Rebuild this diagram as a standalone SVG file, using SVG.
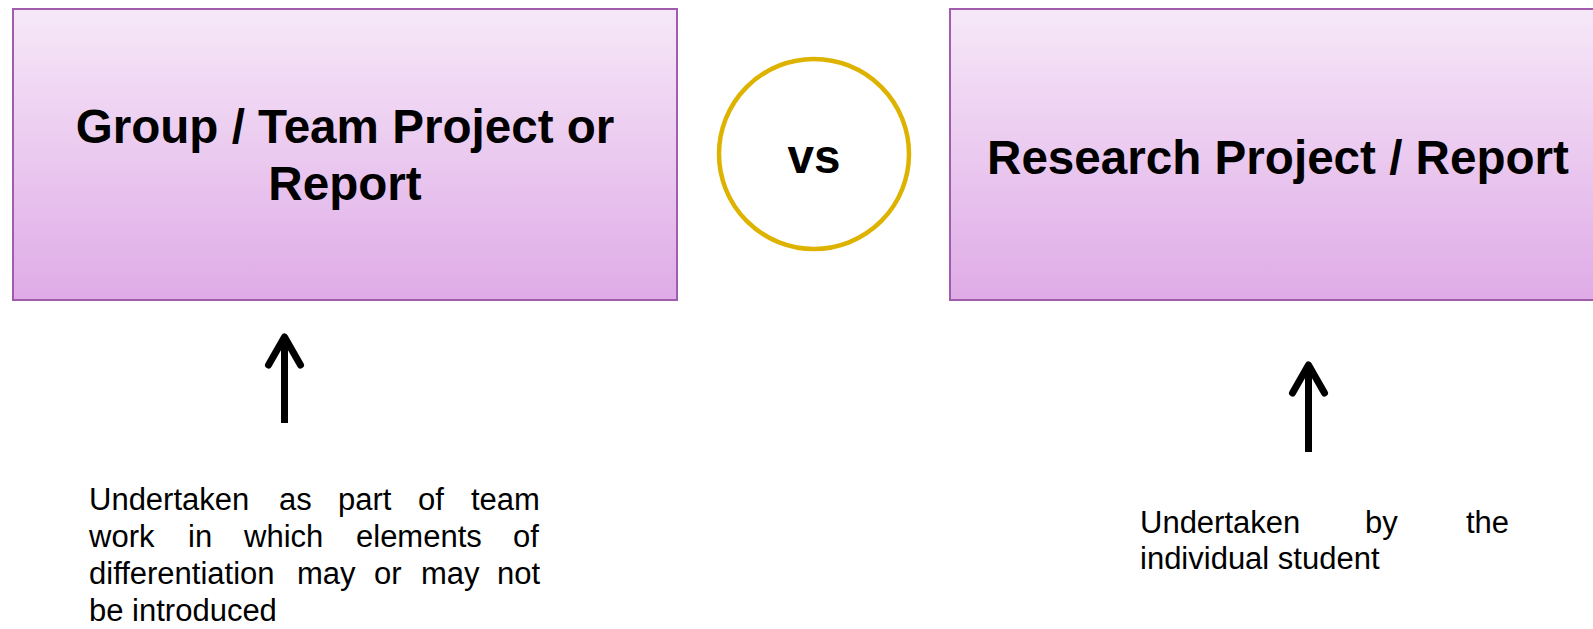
<svg xmlns="http://www.w3.org/2000/svg" width="1593" height="629" viewBox="0 0 1593 629">
<defs>
<linearGradient id="boxGrad" x1="0" y1="0" x2="0" y2="1">
<stop offset="0" stop-color="#F6E8F8"/>
<stop offset="1" stop-color="#DFABE7"/>
</linearGradient>
</defs>
<style>
.box{fill:url(#boxGrad);stroke:#A05DAE;stroke-width:2}
.title{font-family:"Liberation Sans",Arial,sans-serif;font-weight:bold;font-size:47.6px;fill:#000;text-anchor:middle}
.body{font-family:"Liberation Sans",Arial,sans-serif;font-size:31px;fill:#000}
.arrow{fill:none;stroke:#000;stroke-width:7;stroke-linecap:round;stroke-linejoin:round}
.shaft{fill:none;stroke:#000;stroke-width:7}
</style>
<rect width="1593" height="629" fill="#fff"/>
<g id="node-group">
<rect class="box" x="13" y="9" width="664" height="291"/>
<text class="title"><tspan x="345" y="143">Group / Team Project or</tspan><tspan x="345" y="200">Report</tspan></text>
</g>
<g id="node-vs">
<circle cx="814" cy="154" r="95" fill="#fff" stroke="#DDB300" stroke-width="4.5"/>
<text class="title" x="814" y="173" font-size="46">vs</text>
</g>
<g id="node-research">
<rect class="box" x="950" y="9" width="660" height="291"/>
<text class="title" x="1278" y="174">Research Project / Report</text>
</g>
<g id="connectors">
<line class="shaft" x1="284.5" y1="340" x2="284.5" y2="423"/>
<polyline class="arrow" points="268.5,365 284.5,337 300.5,365"/>
<line class="shaft" x1="1308.5" y1="368" x2="1308.5" y2="452"/>
<polyline class="arrow" points="1292.5,393 1308.5,365 1324.5,393"/>
</g>
<g id="label-team">
<text class="body" y="510"><tspan x="89">Undertaken</tspan><tspan x="279">as</tspan><tspan x="338">part</tspan><tspan x="418">of</tspan><tspan x="471">team</tspan></text>
<text class="body" y="547"><tspan x="89">work</tspan><tspan x="188">in</tspan><tspan x="244">which</tspan><tspan x="356">elements</tspan><tspan x="513">of</tspan></text>
<text class="body" y="584"><tspan x="89">differentiation</tspan><tspan x="297">may</tspan><tspan x="374">or</tspan><tspan x="421">may</tspan><tspan x="497">not</tspan></text>
<text class="body" x="89" y="621">be introduced</text>
</g>
<g id="label-individual">
<text class="body" y="533"><tspan x="1140">Undertaken</tspan><tspan x="1365">by</tspan><tspan x="1466">the</tspan></text>
<text class="body" x="1140" y="569">individual student</text>
</g>
</svg>
